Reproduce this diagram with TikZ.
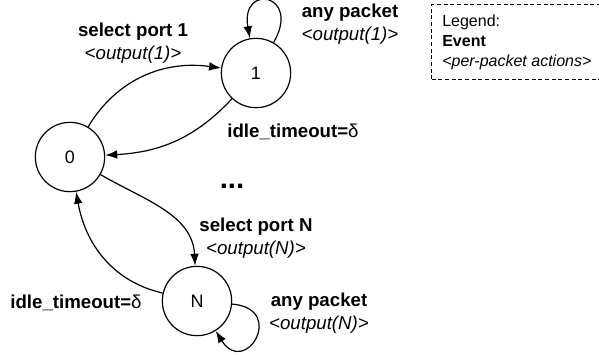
\documentclass[tikz,border=0pt]{standalone}
\usepackage{fontspec}
\setmainfont{Liberation Sans}
\usetikzlibrary{arrows.meta}

\begin{document}
\begin{tikzpicture}[x=0.75pt, y=0.75pt, >={Latex[length=9pt,width=6.5pt]}, line width=0.9pt,
    state/.style={draw, circle, minimum size=52pt, inner sep=0pt, font=\fontsize{13.5}{16}\selectfont},
    evt/.style={align=center, font=\fontsize{14}{17}\selectfont}]
    \useasboundingbox (0,0) rectangle (599,354);
    % Nodes
    \node (s0) [state] at (70,197) {0};
    \node (s1) [state] at (256,281) {1};
    \node (sN) [state] at (197,53) {N};
    \node (lbl01) [evt] at (133,311) {\textbf{select port 1}\\\textit{<output(1)>}};
    \node (lbl10) [evt] at (293,222) {\textbf{idle\_timeout=}δ};
    \node (lblloop1) [evt] at (350,330) {\textbf{any packet}\\\textit{<output(1)>}};
    \node (dots) [font=\fontsize{22}{24}\selectfont\bfseries] at (232,168) {...};
    \node (lbl0N) [evt] at (256,116) {\textbf{select port N}\\\textit{<output(N)>}};
    \node (lblN0) [evt] at (76,51) {\textbf{idle\_timeout=}δ};
    \node (lblloopN) [evt] at (319,41) {\textbf{any packet}\\\textit{<output(N)>}};
    \node (legend) [draw, dash pattern=on 3pt off 2pt, line width=0.8pt, anchor=north west,
        align=left, minimum width=128pt, minimum height=56pt,
        font=\fontsize{12}{15}\selectfont] at (431,350) {Legend:\\\textbf{Event}\\\textit{<per-packet actions>}};

    % Arrows
    \draw[->] (s0) to[out=59, in=172] (s1);
    \draw[->] (s1) to[out=227, in=3] (s0);
    \draw[->] (s0) to[out=-30, in=93] (sN);
    \draw[->] (sN) to[out=167, in=-80] (s0);
    \draw[->] (s1) to[out=60, in=100, looseness=6] (s1);
    \draw[->] (sN) to[out=-5, in=-58, looseness=4.5] (sN);
\end{tikzpicture}
\end{document}
